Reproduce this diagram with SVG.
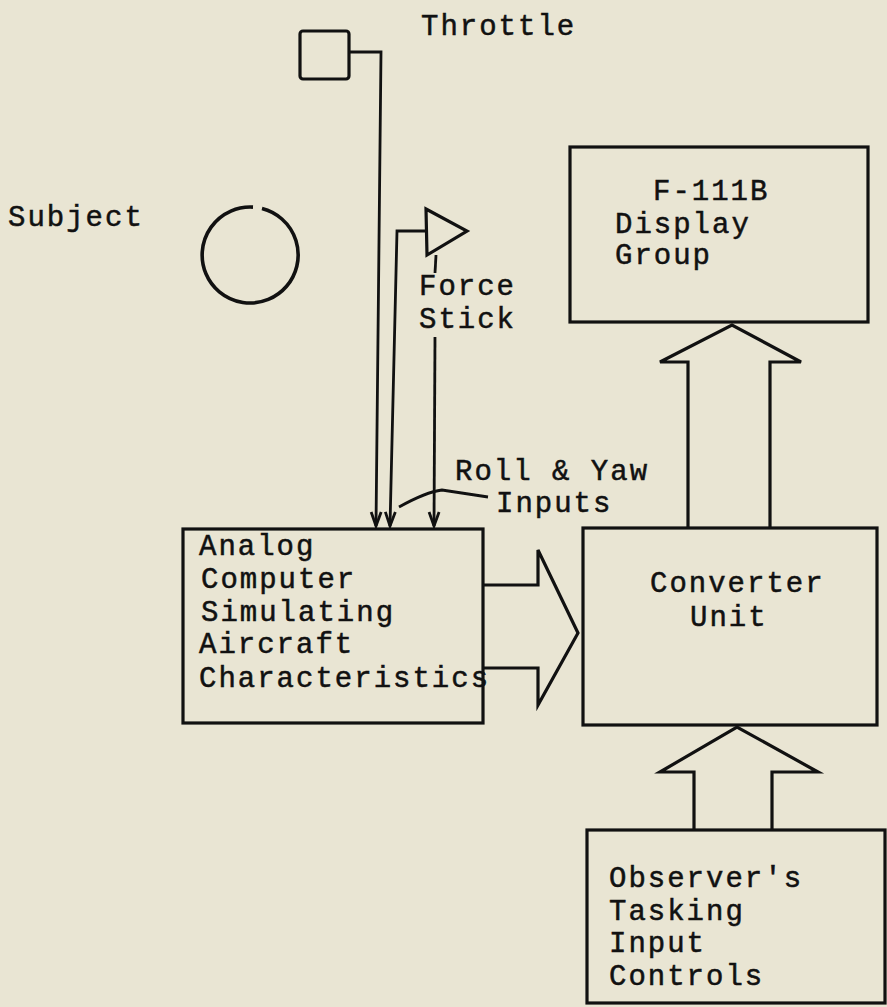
<svg xmlns="http://www.w3.org/2000/svg" width="887" height="1007" viewBox="0 0 887 1007">
<style>
.t{font-family:"Liberation Mono","DejaVu Sans Mono",monospace;font-size:29px;letter-spacing:2px;fill:#111;stroke:#111;stroke-width:0.5}
.b{fill:none;stroke:#111;stroke-width:3.2}
.l{fill:none;stroke:#111;stroke-width:2.8}
</style>
<defs>
<marker id="ah" markerUnits="userSpaceOnUse" markerWidth="20" markerHeight="16" viewBox="-16 -8 18 16" refX="0" refY="0" orient="auto">
<path d="M-14,-5 L0,0 L-14,5" fill="none" stroke="#111" stroke-width="2.8"/>
</marker>
</defs>
<rect x="0" y="0" width="887" height="1007" fill="#e9e5d3"/>
<g id="throttle">
<rect class="b" x="300" y="31" width="49" height="48" rx="3"/>
<text class="t" x="421" y="35">Throttle</text>
</g>
<g id="subject">
<text class="t" x="8" y="226">Subject</text>
<path class="b" style="stroke-width:3.6" d="M262,208.5 A48,48 0 1 1 253,207.1"/>
</g>
<g id="force-stick">
<path class="b" d="M426,209 L467,231 L427,255 Z"/>
<text class="t" x="419" y="295">Force</text>
<text class="t" x="419" y="328">Stick</text>
</g>
<g id="display-group">
<rect class="b" x="570" y="147" width="298" height="175"/>
<text class="t" x="653" y="200">F-111B</text>
<text class="t" x="615" y="233">Display</text>
<text class="t" x="615" y="264">Group</text>
</g>
<g id="analog-computer">
<rect class="b" x="183" y="529" width="300" height="194"/>
<text class="t" x="199" y="555">Analog</text>
<text class="t" x="201" y="588">Computer</text>
<text class="t" x="201" y="621">Simulating</text>
<text class="t" x="199" y="653">Aircraft</text>
<text class="t" x="199" y="687">Characteristics</text>
</g>
<g id="converter-unit">
<rect class="b" x="583" y="528" width="294" height="197"/>
<text class="t" x="650" y="592">Converter</text>
<text class="t" x="690" y="626">Unit</text>
</g>
<g id="observer-controls">
<rect class="b" x="587" y="830" width="298" height="173"/>
<text class="t" x="609" y="887">Observer's</text>
<text class="t" x="609" y="920">Tasking</text>
<text class="t" x="609" y="952">Input</text>
<text class="t" x="609" y="985">Controls</text>
</g>
<g id="roll-yaw-label">
<text class="t" x="455" y="480">Roll &amp; Yaw</text>
<text class="t" x="496" y="512">Inputs</text>
</g>
<g id="connectors">
<path class="l" d="M349,52 L381,52 L376,526" marker-end="url(#ah)"/>
<path class="l" d="M426,231 L397,231 L390,526" marker-end="url(#ah)"/>
<path class="l" d="M436,255 L435,273"/>
<path class="l" d="M435,337 L434,526" marker-end="url(#ah)"/>
<path class="l" d="M399,507 Q426,492 442,490 L488,497"/>
<path class="b" d="M483,585 L538,585 L538,550 L578,633 L538,705 L538,668 L483,668"/>
<path class="b" d="M688,528 L688,362 L660,362 L732,325 L801,362 L770,362 L770,528"/>
<path class="b" d="M694,830 L694,772 L660,772 L737,727 L818,772 L772,772 L772,830"/>
</g>
</svg>
